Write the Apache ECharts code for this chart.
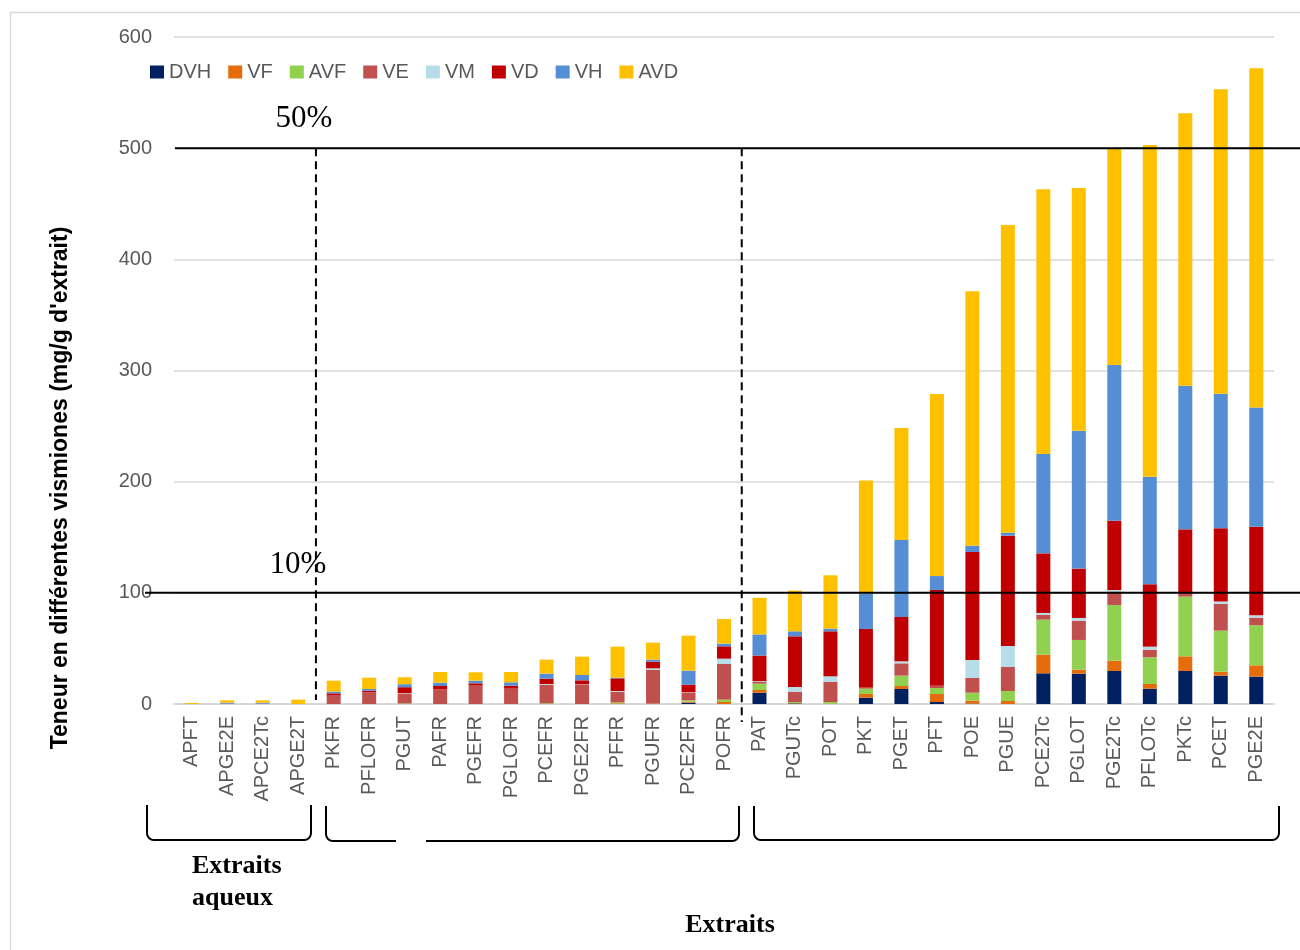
<!DOCTYPE html>
<html>
<head>
<meta charset="utf-8">
<script src="https://cdn.jsdelivr.net/npm/echarts@6/dist/echarts.min.js"></script>
<style>
html,body{margin:0;padding:0;background:#fff;}
#chart{width:1300px;height:950px;}
</style>
</head>
<body>
<div id="chart"></div>
<script>
const categories = ['APFT','APGE2E','APCE2Tc','APGE2T','PKFR','PFLOFR','PGUT','PAFR','PGEFR','PGLOFR','PCEFR','PGE2FR','PFFR','PGUFR','PCE2FR','POFR','PAT','PGUTc','POT','PKT','PGET','PFT','POE','PGUE','PCE2Tc','PGLOT','PGE2Tc','PFLOTc','PKTc','PCET','PGE2E'];
const seriesNames = ['DVH','VF','AVF','VE','VM','VD','VH','AVD'];
const DVH = [0,0,0,0, 0,0,0,0, 0,0,0,0, 0,0,1.2,0, 10.2,0.5,0,5.7, 13.5,1.8,0.3,0, 27.6,27.3,29.7,13.8, 29.7,25.5,24.6];
const VF  = [0,0,0,0, 0,0,0,0, 0,0,0,0, 0.6,0,0.9,1.8, 2.4,0.3,0.3,3.3, 2.7,7.2,2.7,2.7, 16.8,3.6,9.3,4.2, 13.2,3.6,10.2];
const AVF = [0,0,0,0, 0,0,0.5,0, 0,0,0.6,0, 0.9,0.3,1.2,2.1, 5.7,1,1.5,4.8, 9.3,5.4,7.2,9, 31.5,26.7,50.1,24, 53.7,36.9,36];
const VE  = [0,0.3,0.3,0, 7.5,10.5,8.7,13.2, 16.5,13.8,16.8,17.4, 9.6,30.3,6.6,32.1, 1.8,9.3,18.3,0.9, 11.1,1.8,13.2,21.6, 4.5,17.4,12,6.9, 3.6,24,6.9];
const VM  = [0,0,0,0, 0,0,0.5,0, 0,0,0.6,0.3, 0.6,1.5,0.6,4.8, 0.5,4.2,4.8,0, 1.8,0.3,16.2,18.9, 1.5,2.4,1.5,2.7, 0.3,2.1,2.1];
const VD  = [0,0,0,0, 2.1,1.5,5.4,3, 2.1,2.7,4.8,3.6, 11.4,6,6.9,11.1, 23,45.6,40.5,52.8, 39.9,86,97.1,99.2, 53.6,44.4,62.2,56.1, 56.6,65.9,79.7];
const VH  = [0,0.9,0.9,0, 1.5,1.5,2.7,3, 2.4,3,4.5,4.8, 0.6,1.8,12.6,2.4, 19,4.5,2.4,32, 69.2,12.6,5.7,2.7, 89.3,124.1,140.1,96.8, 129.1,121,107.3];
const AVD = [0.9,2.1,2.1,3.9, 9.9,10.2,6.3,9.6, 7.5,9.3,12.6,16.5, 27.9,15.3,31.5,22.1, 33,36.6,48,101.5, 100.7,163.7,229,276.7, 238.3,218.2,195.1,298.3, 245.3,274,305.2];
const yTicks = [0,100,200,300,400,500,600];
const refLevels = [500, 100];
const refLabels = ['50%', '10%'];
const groupBoundaries = [4, 16];

const colors = ['#002060','#E46C0A','#92D050','#C0504D','#B7DEE8','#C00000','#558ED5','#FFC000'];
const values = [DVH,VF,AVF,VE,VM,VD,VH,AVD];

const chart = echarts.init(document.getElementById('chart'));
const option = {
  animation: false,
  backgroundColor: '#fff',
  color: colors,
  grid: {left: 174, right: 26, top: 37, bottom: 246, containLabel: false},
  legend: {
    left: 145, top: 57,
    itemWidth: 14, itemHeight: 13, itemGap: 17,
    icon: 'rect',
    textStyle: {color: '#595959', fontSize: 20, fontFamily: 'Liberation Sans'},
    data: seriesNames
  },
  xAxis: {
    type: 'category',
    data: categories,
    axisTick: {show: false},
    axisLine: {lineStyle: {color: '#d9d9d9', width: 2}},
    axisLabel: {rotate: 90, interval: 0, color: '#595959', fontSize: 20, fontFamily: 'Liberation Sans', margin: 12}
  },
  yAxis: {
    type: 'value',
    min: yTicks[0], max: yTicks[yTicks.length-1], interval: 100,
    axisLine: {show: false},
    axisTick: {show: false},
    splitLine: {lineStyle: {color: '#d9d9d9', width: 1.5}},
    axisLabel: {color: '#595959', fontSize: 20, fontFamily: 'Liberation Sans', margin: 22}
  },
  series: seriesNames.map((n, i) => ({
    name: n,
    type: 'bar',
    stack: 'total',
    barWidth: 14,
    data: values[i],
    itemStyle: {color: colors[i]}
  }))
};
chart.setOption(option);

function bracketPts(x1, x2, yTop, yBot, r, leftUp, rightUp) {
  const pts = [];
  if (leftUp) {
    pts.push([x1, yTop]);
    for (let k = 0; k <= 6; k++) {
      const a = Math.PI - k * Math.PI / 12;
      pts.push([x1 + r + r * Math.cos(a), yBot - r + r * Math.sin(a)]);
    }
  } else {
    pts.push([x1, yBot]);
  }
  if (rightUp) {
    for (let k = 0; k <= 6; k++) {
      const a = Math.PI / 2 - k * Math.PI / 12;
      pts.push([x2 - r + r * Math.cos(a), yBot - r + r * Math.sin(a)]);
    }
    pts.push([x2, yTop]);
  } else {
    pts.push([x2, yBot]);
  }
  return pts;
}

function drawGraphics() {
  const y500 = chart.convertToPixel({yAxisIndex: 0}, refLevels[0]);
  const y100 = chart.convertToPixel({yAxisIndex: 0}, refLevels[1]);
  const y0 = chart.convertToPixel({yAxisIndex: 0}, 0);
  const x0 = chart.convertToPixel({xAxisIndex: 0}, categories[0]);
  const x1 = chart.convertToPixel({xAxisIndex: 0}, categories[1]);
  const step = x1 - x0;
  const bx1 = x0 - step / 2 + groupBoundaries[0] * step;
  const bx2 = x0 - step / 2 + groupBoundaries[1] * step;
  const g = [];
  g.push({type: 'rect', shape: {x: 10.5, y: 12.5, width: 1310, height: 960}, style: {fill: 'none', stroke: '#d9d9d9', lineWidth: 1.5}, silent: true});
  g.push({type: 'line', shape: {x1: 175, y1: y500, x2: 1300, y2: y500}, style: {stroke: '#000', lineWidth: 2}, z: 10});
  g.push({type: 'line', shape: {x1: 145, y1: y100, x2: 1300, y2: y100}, style: {stroke: '#000', lineWidth: 2}, z: 10});
  g.push({type: 'line', shape: {x1: bx1, y1: y500, x2: bx1, y2: y0 - 4}, style: {stroke: '#000', lineWidth: 2, lineDash: [8, 5]}, z: 10});
  g.push({type: 'line', shape: {x1: bx2, y1: y500, x2: bx2, y2: y0 + 18}, style: {stroke: '#000', lineWidth: 2, lineDash: [8, 5]}, z: 10});
  g.push({type: 'text', x: 304, y: y500 - 29, style: {text: refLabels[0], font: '31px "Liberation Serif"', fill: '#000', textAlign: 'center', textVerticalAlign: 'middle'}, z: 10});
  g.push({type: 'text', x: 298, y: y100 - 28, style: {text: refLabels[1], font: '31px "Liberation Serif"', fill: '#000', textAlign: 'center', textVerticalAlign: 'middle'}, z: 10});
  g.push({type: 'text', x: 61, y: 488, rotation: Math.PI / 2, style: {text: "Teneur en différentes vismiones (mg/g d'extrait)", font: 'bold 23px "Liberation Sans"', fill: '#000', textAlign: 'center', textVerticalAlign: 'middle'}});
  const bs = {stroke: '#000', lineWidth: 2, fill: 'none'};
  g.push({type: 'polyline', shape: {points: bracketPts(147, 311, 805, 840, 7, true, true)}, style: bs});
  g.push({type: 'polyline', shape: {points: bracketPts(326, 396, 806, 841, 7, true, false)}, style: bs});
  g.push({type: 'polyline', shape: {points: bracketPts(426, 739, 806, 841, 7, false, true)}, style: bs});
  g.push({type: 'polyline', shape: {points: bracketPts(754, 1279, 806, 840, 7, true, true)}, style: bs});
  g.push({type: 'text', x: 192, y: 866, style: {text: 'Extraits', font: 'bold 26px "Liberation Serif"', fill: '#000', textAlign: 'left', textVerticalAlign: 'middle'}});
  g.push({type: 'text', x: 192, y: 898, style: {text: 'aqueux', font: 'bold 26px "Liberation Serif"', fill: '#000', textAlign: 'left', textVerticalAlign: 'middle'}});
  g.push({type: 'text', x: 730, y: 925, style: {text: 'Extraits', font: 'bold 26px "Liberation Serif"', fill: '#000', textAlign: 'center', textVerticalAlign: 'middle'}});
  chart.setOption({graphic: g});
}
drawGraphics();
</script>
</body>
</html>
